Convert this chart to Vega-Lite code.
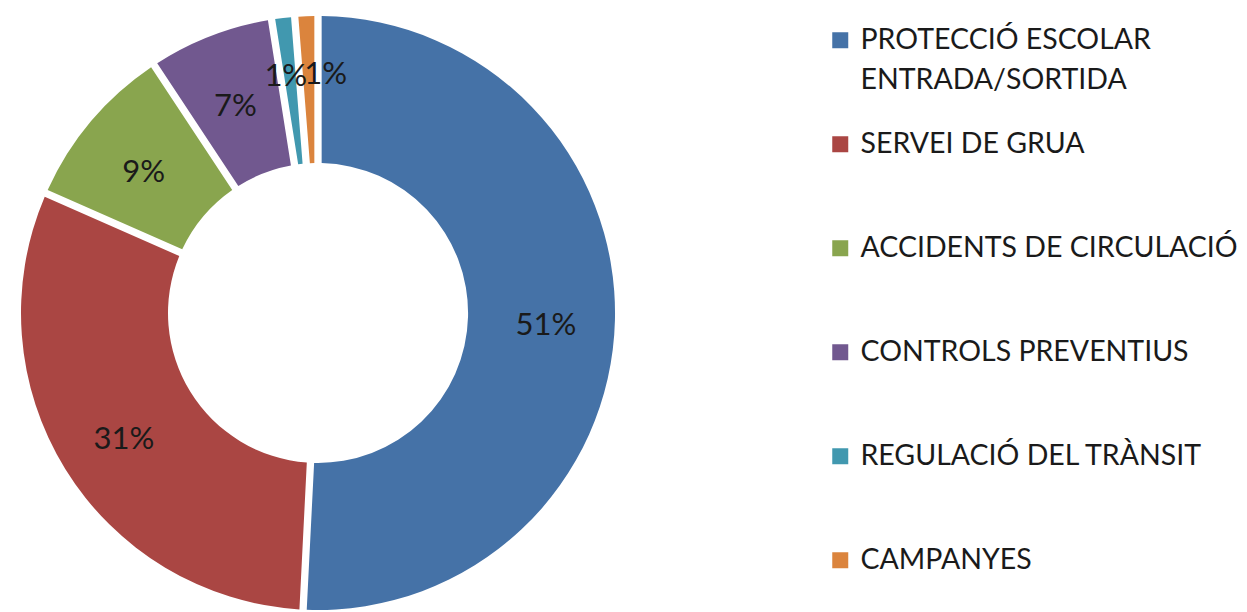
{
  "$schema": "https://vega.github.io/schema/vega-lite/v6.json",
  "width": 636,
  "height": 598,
  "padding": {"left": 0, "top": 14, "right": 0, "bottom": 0},
  "autosize": {"type": "pad"},
  "background": "white",
  "data": {
    "values": [
      {"categoria": "PROTECCIÓ ESCOLAR ENTRADA/SORTIDA", "pct": 50.8, "ord": 1, "label": "51%"},
      {"categoria": "SERVEI DE GRUA", "pct": 30.8, "ord": 2, "label": "31%"},
      {"categoria": "ACCIDENTS DE CIRCULACIÓ", "pct": 9.1, "ord": 3, "label": "9%"},
      {"categoria": "CONTROLS PREVENTIUS", "pct": 6.8, "ord": 4, "label": "7%"},
      {"categoria": "REGULACIÓ DEL TRÀNSIT", "pct": 1.25, "ord": 5, "label": "1%"},
      {"categoria": "CAMPANYES", "pct": 1.25, "ord": 6, "label": "1%"}
    ]
  },
  "layer": [
    {
      "mark": {"type": "arc", "outerRadius": 297, "innerRadius": 150, "padAngle": 0.022},
      "encoding": {
        "theta": {"field": "pct", "type": "quantitative", "stack": true},
        "order": {"field": "ord", "type": "quantitative"},
        "color": {
          "field": "categoria",
          "type": "nominal",
          "sort": ["PROTECCIÓ ESCOLAR ENTRADA/SORTIDA", "SERVEI DE GRUA", "ACCIDENTS DE CIRCULACIÓ", "CONTROLS PREVENTIUS", "REGULACIÓ DEL TRÀNSIT", "CAMPANYES"],
          "scale": {
            "domain": ["PROTECCIÓ ESCOLAR ENTRADA/SORTIDA", "SERVEI DE GRUA", "ACCIDENTS DE CIRCULACIÓ", "CONTROLS PREVENTIUS", "REGULACIÓ DEL TRÀNSIT", "CAMPANYES"],
            "range": ["#4572A7", "#AA4643", "#89A54E", "#71588F", "#4198AF", "#DB843D"]
          },
          "legend": {
            "title": null,
            "orient": "none",
            "legendX": 826,
            "legendY": 12,
            "symbolType": "square",
            "symbolSize": 256,
            "symbolStrokeWidth": 0,
            "symbolOpacity": 1,
            "labelFont": "Lato",
            "labelFontSize": 28.5,
            "labelColor": "#1a1a1a",
            "labelOffset": 6,
            "labelLimit": 500,
            "labelBaseline": "middle",
            "gridAlign": "all",
            "rowPadding": 35,
            "labelExpr": "datum.label == 'PROTECCIÓ ESCOLAR ENTRADA/SORTIDA' ? ['PROTECCIÓ ESCOLAR', 'ENTRADA/SORTIDA'] : datum.label",
            "encode": {"labels": {"update": {"lineHeight": {"value": 40}}}}
          }
        }
      }
    },
    {
      "transform": [
        {"stack": "pct", "groupby": [], "sort": [{"field": "ord", "order": "ascending"}], "as": ["p0", "p1"]},
        {"calculate": "(datum.p0 + datum.p1) / 2", "as": "pmid"},
        {"filter": "datum.ord <= 4"}
      ],
      "mark": {"type": "text", "radius": 228, "dy": 7, "font": "Lato", "fontSize": 31, "color": "#1a1a1a"},
      "encoding": {
        "theta": {"field": "pmid", "type": "quantitative", "stack": null},
        "text": {"field": "label"}
      }
    },
    {
      "transform": [
        {"stack": "pct", "groupby": [], "sort": [{"field": "ord", "order": "ascending"}], "as": ["p0", "p1"]},
        {"calculate": "(datum.p0 + datum.p1) / 2", "as": "pmid"},
        {"filter": "datum.ord == 5"}
      ],
      "mark": {"type": "text", "radius": 240, "dx": -4, "dy": 2, "font": "Lato", "fontSize": 31, "color": "#1a1a1a"},
      "encoding": {
        "theta": {"field": "pmid", "type": "quantitative", "stack": null},
        "text": {"field": "label"}
      }
    },
    {
      "transform": [
        {"stack": "pct", "groupby": [], "sort": [{"field": "ord", "order": "ascending"}], "as": ["p0", "p1"]},
        {"calculate": "(datum.p0 + datum.p1) / 2", "as": "pmid"},
        {"filter": "datum.ord == 6"}
      ],
      "mark": {"type": "text", "radius": 240, "dx": 17, "dy": 2, "font": "Lato", "fontSize": 31, "color": "#1a1a1a"},
      "encoding": {
        "theta": {"field": "pmid", "type": "quantitative", "stack": null},
        "text": {"field": "label"}
      }
    }
  ]
}
